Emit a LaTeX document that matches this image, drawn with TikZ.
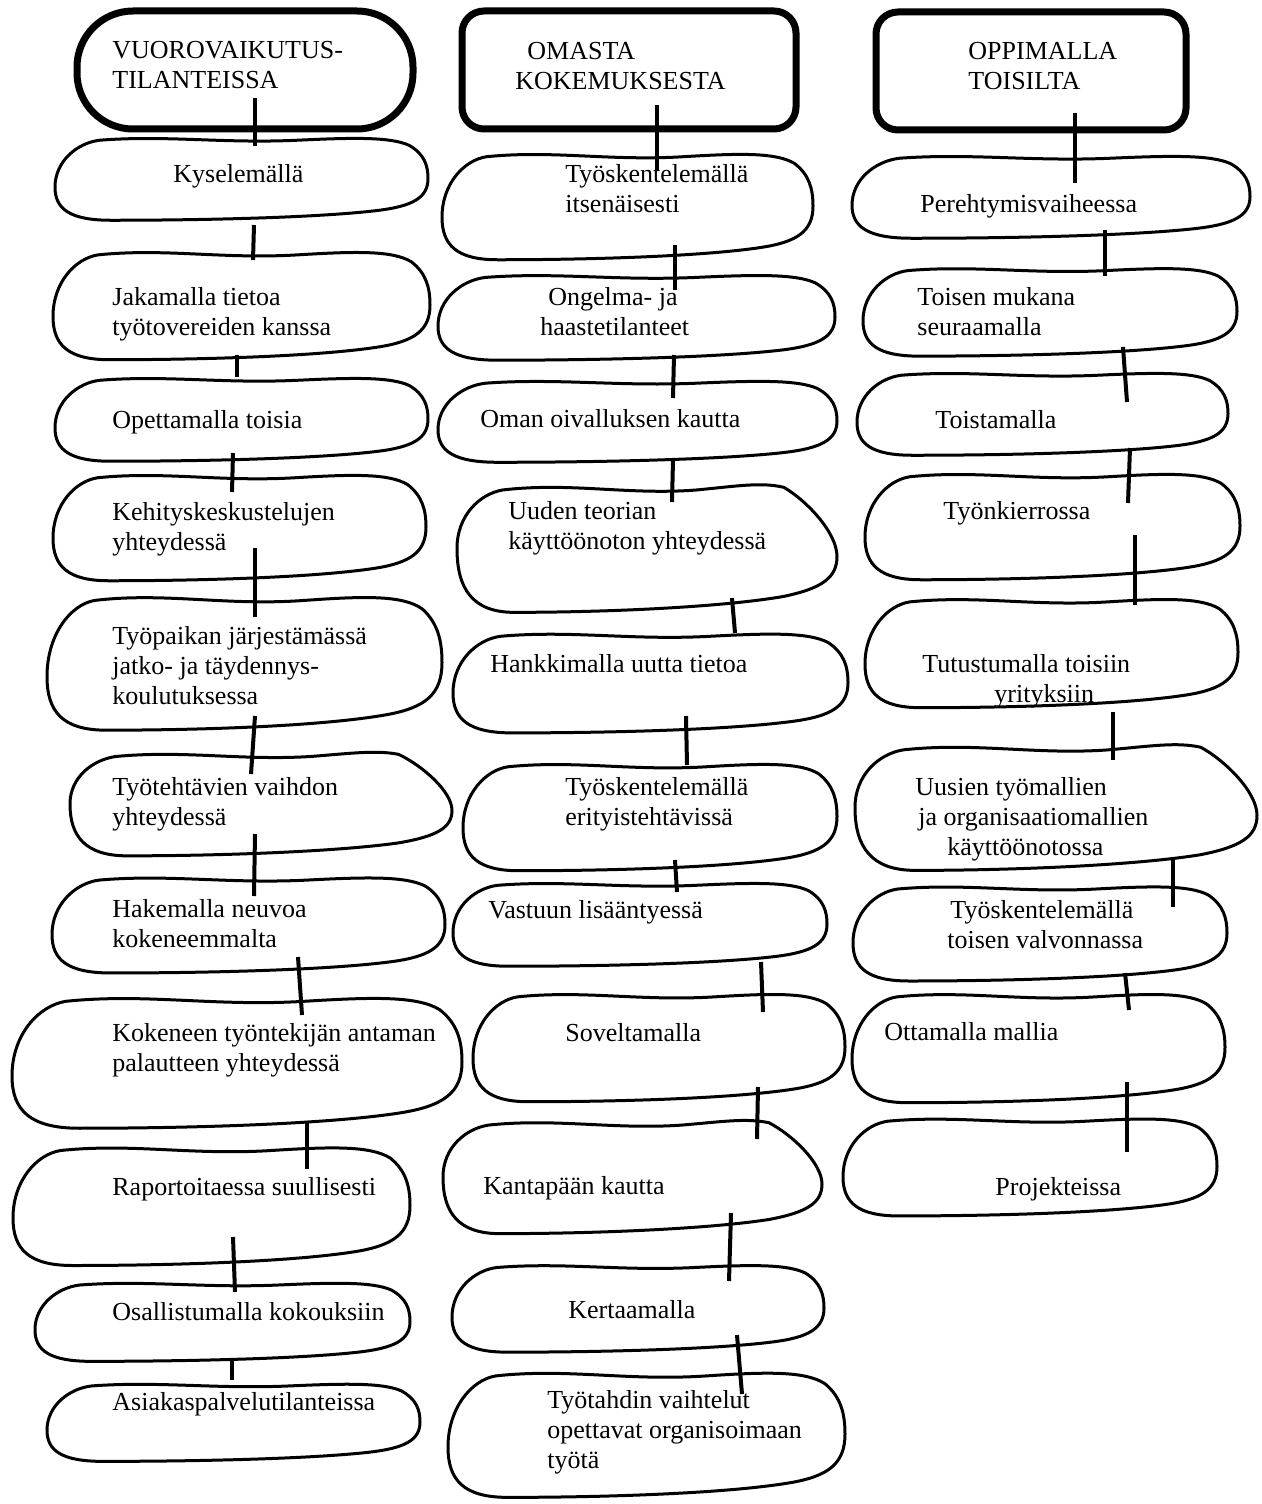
\documentclass[tikz,border=0pt]{standalone}
\usepackage{fontspec}
\setmainfont{Liberation Serif}
\usepackage{tikz}
\tikzset{
  head box/.style={
    draw,
    line width=3.5pt,
    minimum width={#1},
    minimum height=59pt,
    inner sep=0pt,
  },
  blob line/.style={
    line width=1.5pt,
    line join=round,
  },
  link/.style={
    line width=2pt,
  },
  entry/.style={
    anchor=base west,
    align=left,
    inner sep=0pt,
    font=\fontsize{13}{15}\selectfont,
  }
}
\newcommand{\blob}[4]{%
  \draw [blob line, shift={(#1,#2)}, xscale={#3-#1}, yscale={#4-#2}]
    (0.12,0.06) .. controls (0.3,0) and (0.45,0.1) .. (0.65,0.06)
    .. controls (0.8,0.03) and (0.9,0.02) .. (0.95,0.12)
    .. controls (0.99,0.22) and (1,0.35) .. (1,0.5)
    .. controls (1,0.72) and (0.96,0.82) .. (0.86,0.87)
    .. controls (0.7,0.95) and (0.4,0.98) .. (0.15,0.98)
    .. controls (0.04,0.98) and (0,0.85) .. (0,0.6)
    .. controls (0,0.3) and (0.06,0.09) .. (0.12,0.06) -- cycle;
}
\newcommand{\slantblob}[4]{%
  \draw [blob line, shift={(#1,#2)}, xscale={#3-#1}, yscale={#4-#2}]
    (0.12,0.06) .. controls (0.3,0) and (0.45,0.1) .. (0.63,0.06)
    .. controls (0.74,0.03) and (0.8,0) .. (0.86,0.04)
    .. controls (0.92,0.14) and (1,0.38) .. (1,0.56)
    .. controls (1,0.72) and (0.96,0.8) .. (0.86,0.86)
    .. controls (0.7,0.94) and (0.4,0.98) .. (0.15,0.98)
    .. controls (0.04,0.98) and (0,0.8) .. (0,0.5)
    .. controls (0,0.25) and (0.06,0.09) .. (0.12,0.06) -- cycle;
}

\begin{document}
\begin{tikzpicture}[x=0.5pt, y=-0.5pt]
  \useasboundingbox (0,0) rectangle (1262,1504);

  \foreach \xa/\ya/\xb/\yb in {
    55/135/428/222, 53/248/430/362, 55/375/428/463, 53/471/426/583,
    47/592/442/733, 52/874/445/975, 12/993/462/1131,
    13/1143/410/1268, 35/1280/410/1363, 47/1381/420/1463,
    442/150/813/262, 438/272/835/362, 438/378/837/464,
    453/630/848/735, 463/760/837/873, 453/880/827/968, 473/990/845/1104,
    452/1262/824/1354, 448/1368/845/1500,
    852/153/1250/240, 863/265/1237/358, 857/370/1228/457, 865/470/1240/582,
    865/595/1238/710, 853/883/1227/983, 852/990/1225/1105,
    843/1115/1217/1218}
    {\blob{\xa}{\ya}{\xb}{\yb}}
  \foreach \xa/\ya/\xb/\yb in {
    70/750/452/858, 457/482/837/615, 443/1118/822/1236, 855/742/1257/873}
    {\slantblob{\xa}{\ya}{\xb}{\yb}}

  \node [head box=168pt, rounded corners=28pt] (h1) at (245,70) {};
  \node [head box=167pt, rounded corners=11pt] (h2) at (629,70) {};
  \node [head box=155pt, rounded corners=11pt] (h3) at (1031,71) {};

  \node [entry] (h1t) at (112,89) {VUOROVAIKUTUS-\\TILANTEISSA};
  \node [entry] (h2t) at (515,90) {\hspace*{6pt}OMASTA\\KOKEMUKSESTA};
  \node [entry] (h3t) at (968,90) {OPPIMALLA\\TOISILTA};

  \node [entry] (a1) at (173,183) {Kyselemällä};
  \node [entry] (a2) at (112,335) {Jakamalla tietoa\\työtovereiden kanssa};
  \node [entry] (a3) at (112,428) {Opettamalla toisia};
  \node [entry] (a4) at (112,550) {Kehityskeskustelujen\\yhteydessä};
  \node [entry] (a5) at (112,704) {Työpaikan järjestämässä\\jatko- ja täydennys-\\koulutuksessa};
  \node [entry] (a6) at (112,825) {Työtehtävien vaihdon\\yhteydessä};
  \node [entry] (a7) at (112,947) {Hakemalla neuvoa\\kokeneemmalta};
  \node [entry] (a8) at (112,1071) {Kokeneen työntekijän antaman\\palautteen yhteydessä};
  \node [entry] (a9) at (112,1195) {Raportoitaessa suullisesti};
  \node [entry] (a10) at (112,1320) {Osallistumalla kokouksiin};
  \node [entry] (a11) at (112,1410) {Asiakaspalvelutilanteissa};

  \node [entry] (b1) at (565,213) {Työskentelemällä\\itsenäisesti};
  \node [entry] (b2) at (540,335) {\hspace*{4pt}Ongelma- ja\\haastetilanteet};
  \node [entry] (b3) at (480,427) {Oman oivalluksen kautta};
  \node [entry] (b4) at (508,549) {Uuden teorian\\käyttöönoton yhteydessä};
  \node [entry] (b5) at (490,672) {Hankkimalla uutta tietoa};
  \node [entry] (b6) at (565,825) {Työskentelemällä\\erityistehtävissä};
  \node [entry] (b7) at (488,918) {Vastuun lisääntyessä};
  \node [entry] (b8) at (565,1041) {Soveltamalla};
  \node [entry] (b9) at (483,1194) {Kantapään kautta};
  \node [entry] (b10) at (568,1318) {Kertaamalla};
  \node [entry] (b11) at (547,1468) {Työtahdin vaihtelut\\opettavat organisoimaan\\työtä};

  \node [entry] (c1) at (920,212) {Perehtymisvaiheessa};
  \node [entry] (c2) at (917,335) {Toisen mukana\\seuraamalla};
  \node [entry] (c3) at (935,428) {Toistamalla};
  \node [entry] (c4) at (943,519) {Työnkierrossa};
  \node [entry] (c5) at (922,702) {Tutustumalla toisiin\\\hspace*{36pt}yrityksiin};
  \node [entry] (c6) at (915,855) {Uusien työmallien\\\hspace*{1.5pt}ja organisaatiomallien\\\hspace*{16pt}käyttöönotossa};
  \node [entry] (c7) at (947,948) {\hspace*{1.5pt}Työskentelemällä\\toisen valvonnassa};
  \node [entry] (c8) at (884,1040) {Ottamalla mallia};
  \node [entry] (c9) at (995,1195) {Projekteissa};

  \foreach \n/\xa/\ya/\xb/\yb in {
    1/255/98/255/146, 2/254/225/253/260, 3/237/355/237/377, 4/233/453/232/492,
    5/255/548/255/617, 6/255/716/251/774, 7/255/834/254/896, 8/298/957/302/1015,
    9/307/1121/307/1169, 10/233/1237/235/1292, 11/232/1358/232/1380,
    12/657/105/657/170, 13/675/245/675/290, 14/674/355/673/398, 15/673/460/672/502,
    16/732/598/735/633, 17/686/716/687/765, 18/675/860/677/892, 19/761/962/763/1012,
    20/758/1087/757/1139, 21/731/1213/729/1281, 22/737/1335/742/1394,
    23/1075/113/1075/183, 24/1105/230/1105/276, 25/1123/347/1127/402,
    26/1130/448/1128/503, 27/1135/535/1135/605, 28/1113/712/1113/760,
    29/1173/858/1173/907, 30/1125/973/1129/1010, 31/1127/1082/1127/1152}
    {
    \coordinate (k\n a) at (\xa,\ya);
    \coordinate (k\n b) at (\xb,\yb);
    \draw [link] (k\n a) -- (k\n b);
    }
\end{tikzpicture}
\end{document}
